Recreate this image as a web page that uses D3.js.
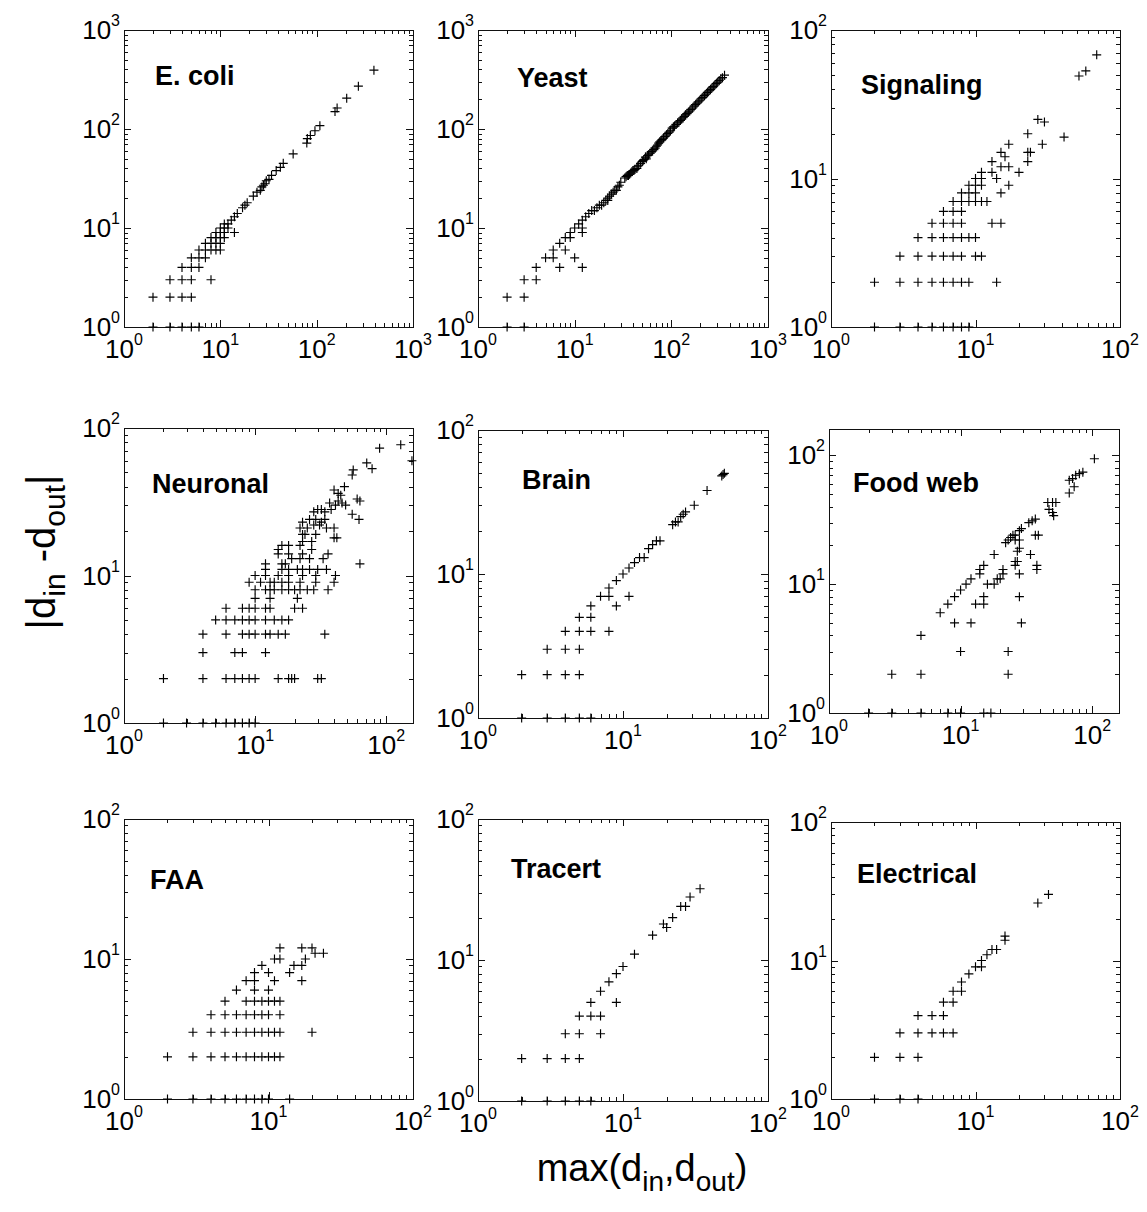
<!DOCTYPE html>
<html><head><meta charset="utf-8">
<script src="https://cdn.jsdelivr.net/npm/d3@7"></script>
<style>
body{margin:0;background:#fff}
svg{display:block}
text{font-family:Arial,"Liberation Sans",sans-serif;fill:#000}
</style>
</head><body>
<svg id="chart" width="1147" height="1212"></svg>
<script>
// ---------------- DATA (x = max(din,dout), y = |din-dout|) ----------------
const panelNames = ["E. coli","Yeast","Signaling","Neuronal","Brain","Food web","FAA","Tracert","Electrical"];

const ecoli = [[2,1],[3,1],[4,1],[5,1],[6,1],[2,2],[3,2],[4,2],[5,2],[3,3],[4,3],[5,3],[8,3],[4,4],[5,4],[6,4],
[5,5],[6,5],[7,5],[6,6],[7,6],[8,6],[9,6],[10,6],[7,7],[8,7],[9,7],[10,7],[8,8],[9,8],[10,8],[11,8],
[9,9],[10,9],[11,9],[14,9],[10,10],[11,10],[12,10],[11,11],[12,11],[13,12],[14,13],[15,14],[17,16],[18,17],
[19,18],[22,21],[24,23],[26,24],[27,26],[28,27],[29,28],[30,30],[32,31],[34,34],[38,38],[42,41],[45,45],
[57,56],[79,72],[80,80],[86,86],[96,96],[108,108],[155,150],[163,163],[205,205],[271,271],[393,393]];

const yeast = [[2,1],[3,1],[2,2],[3,2],[3,3],[4,3],[4,4],[5,5],[6,5],[6,6],[7,7],[7,4],[8,6],[8,8],[9,8],[9,9],
[10,5],[10,10],[11,11],[12,4],[12,9],[12,10],[12,12],[13,13],[14,14],[15,15],[16,15],[17,16],[18,17],[19,17],
[20,18],[21,19],[22,19],[22,20],[23,21],[24,22],[25,23],[26,24],[27,24],[28,26],[29,27],[30,29],[33,32],[34,33],
[35,34],[36,34],[37,35],[38,36],[39,37],[40,38],[41,38],[42,39],[44,40],[45,42],[46,43],[48,45],[50,47],[51,48],
[52,49],[54,52],[55,50],[57,54],[58,55],[60,57],[62,59],[64,60],[66,62],[68,64],[70,67],[72,69],[74,72],[76,74],
[78,76],[80,78],[83,81],[86,84],[89,87],[92,90],[95,93],[98,96],[102,102],[105,105],[108,107],[112,111],[116,115],
[120,118],[124,122],[128,126],[132,130],[136,134],[140,139],[145,143],[150,148],[155,152],[160,158],[166,163],
[172,170],[178,176],[184,182],[190,188],[197,195],[204,202],[212,209],[220,217],[228,225],[236,234],[245,243],
[254,250],[263,260],[272,268],[282,278],[292,288],[302,298],[313,309],[325,320],[338,330],[355,350]];

const signaling = [[2,1],[3,1],[4,1],[5,1],[6,1],[7,1],[8,1],[9,1],[2,2],[3,2],[4,2],[5,2],[6,2],[7,2],[8,2],[9,2],[14,2],
[3,3],[4,3],[5,3],[6,3],[7,3],[8,3],[10,3],[11,3],[4,4],[5,4],[6,4],[7,4],[8,4],[9,4],[10,4],
[5,5],[6,5],[7,5],[8,5],[13,5],[15,5],[6,6],[7,6],[8,6],[7,7],[8,7],[9,7],[10,7],[11,7],[12,7],
[8,8],[9,8],[10,8],[15,8],[9,9],[10,9],[11,9],[17,9],[10,10],[11,10],[14,10],[11,11],[13,11],[20,11],[15,12],
[13,13],[15,15],[16,14],[17,12],[17,17],[23,20],[23,15],[24,15],[23,13],[29,17],[27,25],[30,24],[41,19],
[52,49],[58,53],[69,68]];

const neuronal = [[2,1],[3,1],[4,1],[5,1],[6,1],[7,1],[8,1],[9,1],[10,1],
[2,2],[4,2],[6,2],[7,2],[8,2],[9,2],[10,2],[15,2],[18,2],[19,2],[20,2],[30,2],[32,2],
[4,3],[7,3],[8,3],[12,3],[4,4],[6,4],[8,4],[9,4],[10,4],[12,4],[13,4],[15,4],[17,4],[34,4],
[5,5],[6,5],[7,5],[8,5],[9,5],[10,5],[12,5],[14,5],[16,5],[18,5],[6,6],[8,6],[9,6],[10,6],[12,6],[13,6],[20,6],[23,6],
[10,7],[13,7],[21,7],[10,8],[12,8],[13,8],[14,8],[16,8],[18,8],[20,8],[22,8],[25,8],[28,8],[36,8],
[9,9],[11,9],[13,9],[14,9],[16,9],[18,9],[22,9],[29,9],[40,9],[10,10],[12,10],[15,10],[18,10],[23,10],[29,10],[41,10],
[12,11],[16,11],[18,11],[21,11],[23,11],[26,11],[30,11],[35,11],[63,12],[12,12],[16,12],[17,12],[19,13],[22,13],
[15,14],[18,14],[23,14],[26,13],[33,13],[36,14],[15,15],[16,16],[18,16],[22,16],[27,15],[23,17],[27,17],[40,18],[42,18],
[23,19],[24,19],[29,19],[22,21],[25,21],[28,22],[31,22],[35,21],[40,21],[23,23],[26,24],[29,24],[32,23],[34,24],
[55,26],[62,24],[28,27],[30,28],[32,28],[34,27],[38,28],[37,31],[41,30],[43,32],[46,31],[49,30],[60,33],[63,32],
[45,35],[43,36],[40,38],[48,40],[55,48],[56,52],[71,58],[78,53],[89,73],[129,77],[157,60]];

const brain = [[2,1],[3,1],[4,1],[5,1],[6,1],[2,2],[3,2],[4,2],[5,2],[3,3],[4,3],[5,3],[4,4],[5,4],[6,4],[8,4],
[5,5],[6,5],[6,6],[9,6],[7,7],[8,7],[11,7],[8,8],[9,9],[10,10],[11,11],[12,12],[13,13],[14,13],[15,15],[16,16],
[17,17],[18,17],[22,22],[23,23],[24,23],[25,25],[26,26],[27,27],[31,30],[38,38],[48,48],[49,49],[50,50]];

const foodweb = [[2,1],[3,1],[5,1],[8,1],[10,1],[15,1],[17,1],[3,2],[5,2],[23,2],[10,3],[23,3],[5,4],
[9,5],[12,5],[29,5],[7,6],[8,7],[9,8],[10,9],[11,10],[12,11],[14,12],[14,13],[15,14],[18,17],
[13,7],[15,7],[15,8],[28,8],[16,10],[18,10],[19,11],[20,11],[21,12],[21,13],[26,15],[27,15],[26,14],[28,12],
[34,17],[38,14],[38,13],[22,21],[23,22],[24,23],[25,24],[26,24],[28,26],[29,27],[26,22],[28,22],[28,19],[27,18],
[33,30],[35,31],[37,32],[37,24],[39,24],[46,43],[50,43],[53,43],[47,38],[50,36],[51,34],
[67,64],[71,66],[75,70],[80,72],[85,74],[67,51],[73,57],[104,94]];

const faa = [[2,1],[3,1],[4,1],[5,1],[6,1],[7,1],[8,1],[9,1],[10,1],[14,1],
[2,2],[3,2],[4,2],[5,2],[6,2],[7,2],[8,2],[9,2],[10,2],[11,2],[12,2],
[3,3],[4,3],[5,3],[6,3],[7,3],[8,3],[9,3],[10,3],[11,3],[12,3],[20,3],
[4,4],[5,4],[6,4],[7,4],[8,4],[9,4],[10,4],[12,4],[5,5],[7,5],[8,5],[9,5],[10,5],[11,5],[12,5],
[6,6],[8,6],[10,6],[7,7],[8,7],[11,7],[17,7],[8,8],[10,8],[14,8],[9,9],[15,9],[17,9],
[11,10],[12,10],[18,10],[21,11],[24,11],[12,12],[17,12],[20,12]];

const tracert = [[2,1],[3,1],[4,1],[5,1],[6,1],[2,2],[3,2],[4,2],[5,2],[4,3],[5,3],[7,3],[5,4],[6,4],[7,4],
[6,5],[9,5],[7,6],[8,7],[9,8],[10,9],[12,11],[16,15],[19,18],[20,17],[22,20],[25,24],[27,24],[29,28],[34,32]];

const electrical = [[2,1],[3,1],[4,1],[2,2],[3,2],[4,2],[3,3],[4,3],[5,3],[6,3],[7,3],[4,4],[5,4],[6,4],
[6,5],[7,5],[7,6],[8,6],[8,7],[9,8],[10,9],[11,9],[11,10],[12,11],[13,12],[14,12],[16,14],[16,15],[27,26],[32,30]];

const panelData = [ecoli, yeast, signaling, neuronal, brain, foodweb, faa, tracert, electrical];
const xDomains = [[1,1000],[1,1000],[1,100],[1,160],[1,100],[1,160],[1,100],[1,100],[1,100]];
const yDomains = [[1,1000],[1,1000],[1,100],[1,100],[1,100],[1,160],[1,100],[1,100],[1,100]];
const tickBase = "10";

// ---------------- LAYOUT ----------------
// [left, right, top, bottom]
const boxes = [[124,413,30,327],[478,768,30,327],[831,1120,30,327],
               [124,413,428,723],[478,768,430,718],[829,1119,429,713],
               [124,413,819,1099],[478,768,819,1101],[831,1120,822,1099]];
// title [x, baseline]
const titlePos = [[155,85],[517,87],[861,94],[152,493],[522,489],[853,492],[150,889],[511,878],[857,883]];

const svg = d3.select("#chart");

function decades(dom){ const out=[]; for(let d=1; d<=dom[1]*1.0001; d*=10) out.push(d); return out; }
function minors(dom){ const out=[]; for(let d=1; d<dom[1]; d*=10){ for(let k=2;k<=9;k++){ const v=d*k; if(v<=dom[1]) out.push(v);} } return out; }

function supLabel(g, x, y, exp, anchor){
  const t = g.append("text").attr("x",x).attr("y",y).attr("text-anchor",anchor);
  t.append("tspan").attr("font-size",26).text(tickBase);
  t.append("tspan").attr("font-size",16).attr("dy",-13).text(exp);
}

panelData.forEach((pts,i)=>{
  const [L,R,T,B] = boxes[i];
  const x = d3.scaleLog().domain(xDomains[i]).range([L,R]);
  const y = d3.scaleLog().domain(yDomains[i]).range([B,T]);
  const g = svg.append("g");
  const xMaj = decades(xDomains[i]), yMaj = decades(yDomains[i]);
  const xMin = minors(xDomains[i]), yMin = minors(yDomains[i]);

  const ax = (gen, vals, size, tr) => g.append("g").attr("transform",tr)
      .call(gen.tickValues(vals).tickSizeInner(size).tickSizeOuter(0).tickFormat(""))
      .call(s=>s.select(".domain").remove())
      .call(s=>s.selectAll("line").attr("stroke","#111").attr("shape-rendering","crispEdges"));
  ax(d3.axisBottom(x), xMaj, -7, `translate(0,${B})`);
  ax(d3.axisBottom(x), xMin, -4, `translate(0,${B})`);
  ax(d3.axisTop(x), xMaj, -7, `translate(0,${T})`);
  ax(d3.axisTop(x), xMin, -4, `translate(0,${T})`);
  ax(d3.axisLeft(y), yMaj, -7, `translate(${L},0)`);
  ax(d3.axisLeft(y), yMin, -4, `translate(${L},0)`);
  ax(d3.axisRight(y), yMaj, -7, `translate(${R},0)`);
  ax(d3.axisRight(y), yMin, -4, `translate(${R},0)`);

  g.append("rect").attr("x",L+0.5).attr("y",T+0.5).attr("width",R-L).attr("height",B-T)
    .attr("fill","none").attr("stroke","#111").attr("stroke-width",1).attr("shape-rendering","crispEdges");

  xMaj.forEach(v=> supLabel(g, x(v), B+31, Math.round(Math.log10(v)), "middle"));
  yMaj.forEach(v=> supLabel(g, L-4, y(v)+9, Math.round(Math.log10(v)), "end"));

  g.append("text").attr("x",titlePos[i][0]).attr("y",titlePos[i][1])
    .attr("font-size",27).attr("font-weight","bold").text(panelNames[i]);

  g.selectAll("path.pt").data(pts).join("path").attr("class","pt")
    .attr("transform",d=>`translate(${x(d[0])},${y(d[1])})`)
    .attr("d","M-4.5,0H4.5M0,-4.5V4.5")
    .attr("stroke","#000").attr("stroke-width",1.15).attr("fill","none");
});

// axis titles
const xt = svg.append("text").attr("x",642).attr("y",1181).attr("text-anchor","middle").attr("font-size",38);
xt.append("tspan").text("max(d");
xt.append("tspan").attr("font-size",28).attr("dy",10).text("in");
xt.append("tspan").attr("dy",-10).text(",d");
xt.append("tspan").attr("font-size",28).attr("dy",10).text("out");
xt.append("tspan").attr("dy",-10).text(")");

const yt = svg.append("text").attr("transform","translate(55,552) rotate(-90)").attr("text-anchor","middle").attr("font-size",40);
yt.append("tspan").text("|d");
yt.append("tspan").attr("font-size",30).attr("dy",10).text("in");
yt.append("tspan").attr("dy",-10).text(" -d");
yt.append("tspan").attr("font-size",30).attr("dy",10).text("out");
yt.append("tspan").attr("dy",-10).text("|");
</script>
</body></html>
